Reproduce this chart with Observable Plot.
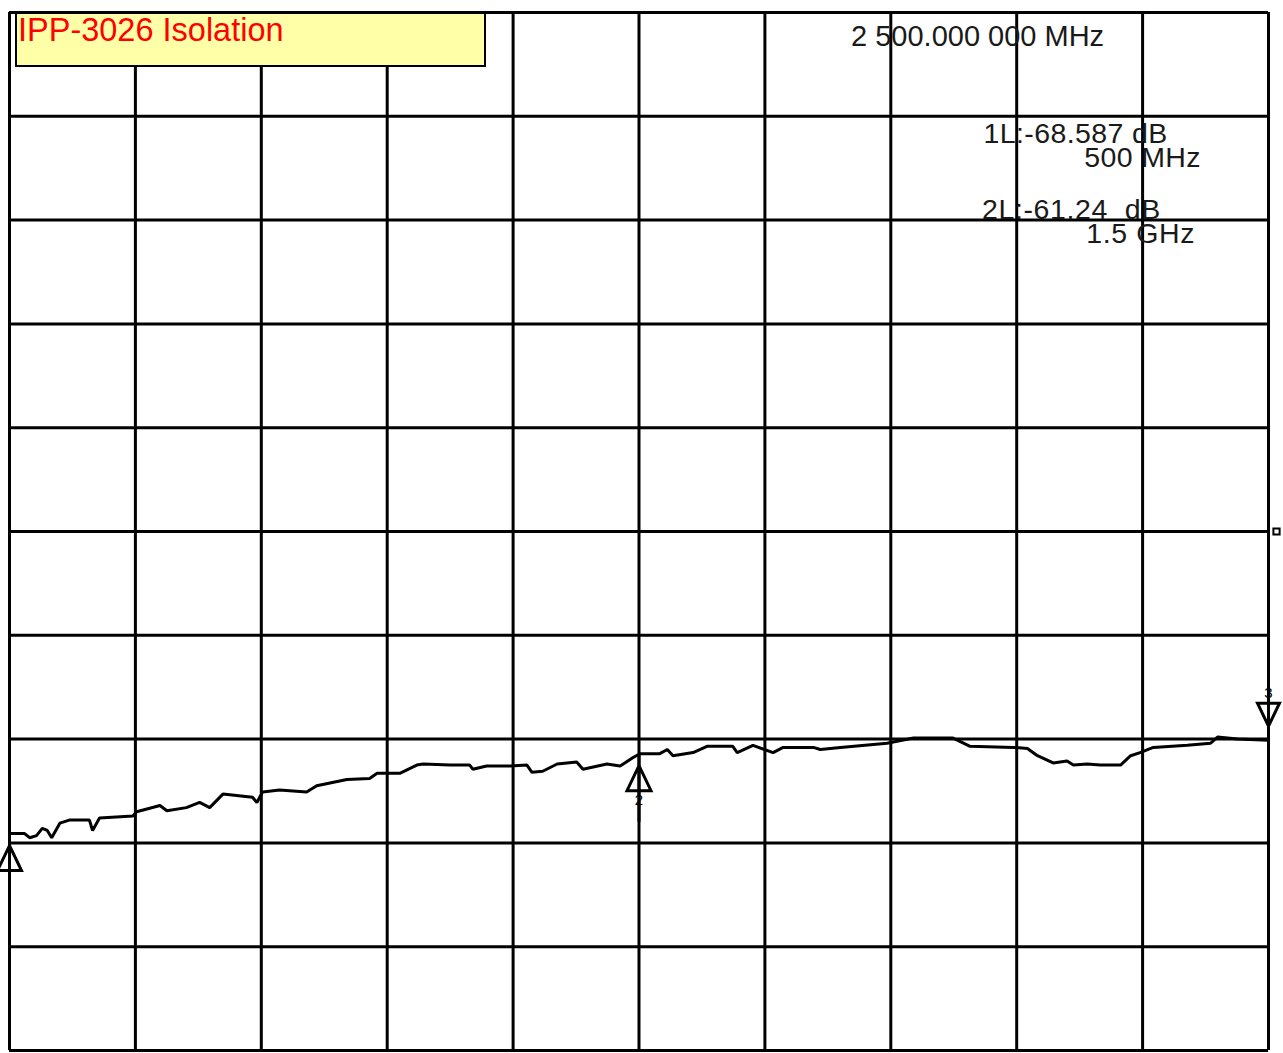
<!DOCTYPE html>
<html><head><meta charset="utf-8">
<script src="https://cdn.jsdelivr.net/npm/d3@7"></script>
<script src="https://cdn.jsdelivr.net/npm/@observablehq/plot@0.6"></script>
<style>
html,body{margin:0;padding:0;background:#fff;}
#wrap{position:relative;width:1283px;height:1053px;overflow:hidden;background:#fff;}
#wrap svg{display:block;}
.ro{position:absolute;font-family:"Liberation Sans",Arial,sans-serif;color:#1a1a1a;white-space:pre;line-height:24px;}
#title{position:absolute;left:15px;top:12px;width:471px;height:55px;box-sizing:border-box;border:2.5px solid #000;background:#FFFFA8;}
#title span{position:absolute;left:1px;top:0px;font-family:"Liberation Sans",Arial,sans-serif;font-size:32.5px;line-height:1;color:#FF0000;white-space:pre;}
</style></head><body><div id="wrap"></div>
<script>
// ---- data ----
const chartTitle = "IPP-3026 Isolation";
const freqMHz = [500,524,532,543,552,560,567,580,595,627,632,643,696,702,739,750,781,802,818,839,886,893,902,929,972,988,1036,1072,1084,1120,1147,1157,1200,1231,1236,1258,1295,1322,1330,1347,1370,1401,1411,1449,1470,1490,1502,1533,1545,1554,1586,1608,1649,1656,1681,1713,1729,1777,1788,1820,1894,1936,1999,2026,2095,2117,2133,2158,2180,2190,2212,2233,2265,2281,2296,2317,2371,2408,2419,2451,2500];
const isolationDb = [-69.1,-69.1,-69.5,-69.3,-68.6,-68.8,-69.5,-68.1,-67.8,-67.8,-68.8,-67.6,-67.4,-67.0,-66.4,-66.9,-66.6,-66.1,-66.6,-65.3,-65.6,-66.1,-65.1,-64.9,-65.1,-64.5,-63.9,-63.8,-63.3,-63.3,-62.5,-62.4,-62.5,-62.5,-62.9,-62.6,-62.6,-62.5,-63.2,-63.1,-62.4,-62.2,-62.9,-62.4,-62.6,-61.8,-61.4,-61.4,-61.0,-61.6,-61.3,-60.7,-60.7,-61.3,-60.6,-61.3,-60.8,-60.8,-61.0,-60.8,-60.4,-59.9,-59.9,-60.7,-60.8,-60.9,-61.6,-62.3,-62.1,-62.5,-62.4,-62.5,-62.5,-61.6,-61.3,-60.8,-60.6,-60.4,-59.8,-60.0,-60.1];
const xGridMHz = [500,700,900,1100,1300,1500,1700,1900,2100,2300,2500];
const yGridDb = [-90,-80,-70,-60,-50,-40,-30,-20,-10,0,10];
const markerIds = ["1","2","3"];
const markerFreqMHz = [500,1500,2500];
const markerDb = [-69.1,-61.4,-60.1];
const markerDir = ["up","up","down"];
const refLevelDb = -40;
const centerText = "2 500.000 000 MHz";
const readoutValues = ["1L:-68.587 dB","2L:-61.24  dB"];
const readoutFreqs = ["500 MHz","1.5 GHz"];

// ---- build ----
const trace = freqMHz.map((f,i)=>({f, db: isolationDb[i]}));
const markers = markerIds.map((id,i)=>({id, f: markerFreqMHz[i], db: markerDb[i], dir: markerDir[i]}));
const upSym = {draw(c){c.moveTo(0,0);c.lineTo(0,68);c.moveTo(0,12);c.lineTo(-12,37);c.lineTo(12,37);c.closePath();}};
const downSym = {draw(c){c.moveTo(0,0);c.lineTo(0,-58);c.moveTo(0,-14);c.lineTo(-11,-37);c.lineTo(11,-37);c.closePath();}};
const ups = markers.filter(m=>m.dir==="up");
const downs = markers.filter(m=>m.dir==="down");

const chart = Plot.plot({
  width:1283, height:1053,
  marginLeft:9, marginRight:15, marginTop:12, marginBottom:3,
  x:{domain:[500,2500], axis:null},
  y:{domain:[-90,10], axis:null},
  style:{background:"#fff", overflow:"visible"},
  marks:[
    Plot.ruleX(xGridMHz,{stroke:"#000", strokeWidth:3}),
    Plot.ruleY(yGridDb,{stroke:"#000", strokeWidth:3}),
    Plot.line(trace,{x:"f", y:"db", stroke:"#000", strokeWidth:3, strokeLinejoin:"miter"}),
    Plot.dot(ups,{x:"f", y:"db", symbol:upSym, r:5, stroke:"#000", strokeWidth:3, fill:"none"}),
    Plot.dot(downs,{x:"f", y:"db", symbol:downSym, r:5, stroke:"#000", strokeWidth:3, fill:"none"}),
    Plot.text(ups.filter(m=>m.id!=="1"),{x:"f", y:"db", text:"id", dy:47, fontSize:15, fill:"#000", fontFamily:"Liberation Sans, sans-serif"}),
    Plot.text(downs,{x:"f", y:"db", text:"id", dy:-47, fontSize:15, fill:"#000", fontFamily:"Liberation Sans, sans-serif"}),
    Plot.dot([refLevelDb],{x:()=>2500, y:d=>d, symbol:"square", r:3.5, dx:8, stroke:"#000", strokeWidth:2, fill:"#fff"})
  ]
});
const wrap = document.getElementById("wrap");
wrap.appendChild(chart);

function addText(txt, pos, size, ls, align){
  const d = document.createElement("div");
  d.className = "ro";
  d.textContent = txt;
  for (const k in pos) d.style[k] = pos[k]+"px";
  d.style.fontSize = size+"px"; d.style.letterSpacing = ls+"px";
  if (align) d.style.textAlign = align;
  wrap.appendChild(d);
  return d;
}
addText(centerText, {left:851, top:24}, 29, 0);
// each readout: value line (padded so it ends earlier) over its frequency line, right aligned
addText(readoutValues[0] + "    \n" + readoutFreqs[0], {right:82, top:121}, 28.5, 0.4, "right");
addText(readoutValues[1] + "    \n" + readoutFreqs[1], {right:88, top:197}, 28.5, 0.6, "right");

const t = document.createElement("div");
t.id = "title";
const s = document.createElement("span");
s.textContent = chartTitle;
t.appendChild(s);
wrap.appendChild(t);
</script>
</body></html>
